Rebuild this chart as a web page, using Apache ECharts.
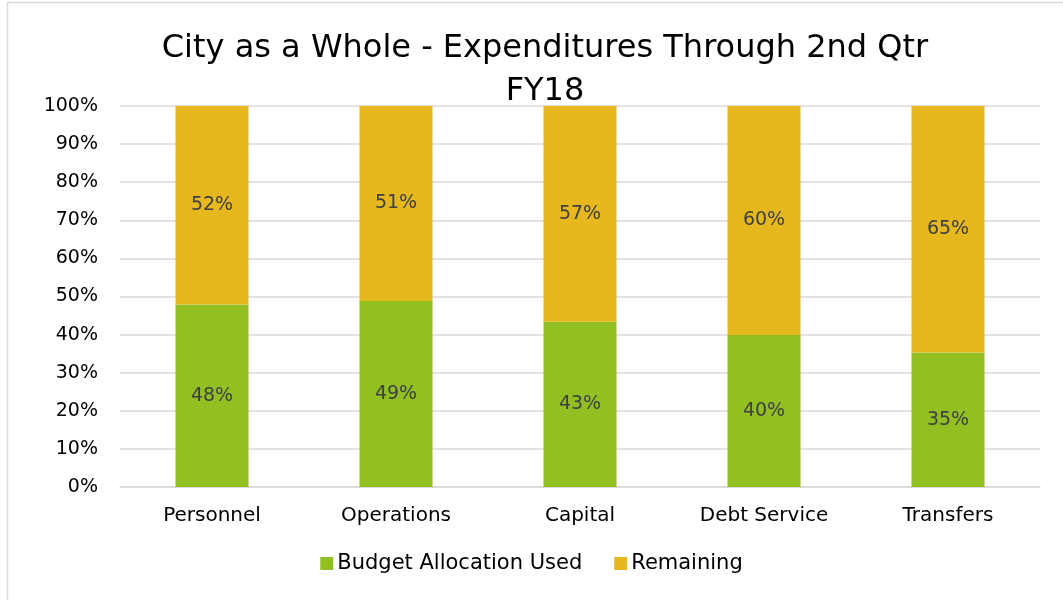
<!DOCTYPE html>
<html><head><meta charset="utf-8">
<script src="https://cdn.jsdelivr.net/npm/echarts@6/dist/echarts.min.js"></script>
<style>html,body{margin:0;padding:0;background:#fff}#c{width:1063px;height:600px}</style>
</head><body><div id="c"></div>
<script>
const categories = ["Personnel", "Operations", "Capital", "Debt Service", "Transfers"];
const usedValues = [47.9, 48.8, 43.4, 39.9, 35.3];
const remainingValues = [52.1, 51.2, 56.6, 60.1, 64.7];
const yTicks = [0,10,20,30,40,50,60,70,80,90,100];
const FONT = "DejaVu Sans";
const chart = echarts.init(document.getElementById('c'));
const lbl = {show:true, position:'inside', color:'#404040', fontSize:19, fontFamily:FONT,
  formatter: p => Math.round(p.value) + '%'};
chart.setOption({
  animation:false,
  graphic:[{type:'rect', shape:{x:7.5,y:2.5,width:1060,height:600}, style:{fill:'none', stroke:'#d9d9d9', lineWidth:1.5}}],
  title:{text:'City as a Whole - Expenditures Through 2nd Qtr\nFY18', left:540, textAlign:'center', top:22,
    textStyle:{fontFamily:FONT, fontSize:32, fontWeight:'normal', color:'#000', lineHeight:43}},
  legend:{bottom:21, left:'center', itemWidth:13, itemHeight:13, itemGap:32, icon:'rect',
    textStyle:{fontFamily:FONT, fontSize:21, color:'#000', padding:[0,0,0,-1]}},
  grid:{left:120, right:23, top:106, bottom:113},
  xAxis:{type:'category', data:categories, axisTick:{show:false},
    axisLine:{lineStyle:{color:'#d9d9d9', width:1.5}},
    axisLabel:{fontFamily:FONT, fontSize:20, color:'#000', margin:19}},
  yAxis:{type:'value', min:0, max:100, interval:10, axisLine:{show:false}, axisTick:{show:false},
    splitLine:{lineStyle:{color:'#d9d9d9', width:1.5}},
    axisLabel:{fontFamily:FONT, fontSize:19, color:'#000', margin:22, formatter: v => yTicks.includes(v) ? v + '%' : ''}},
  series:[
    {name:'Budget Allocation Used', type:'bar', stack:'a', data:usedValues, barWidth:73,
      itemStyle:{color:'#92C023'}, label:lbl},
    {name:'Remaining', type:'bar', stack:'a', data:remainingValues, barWidth:73,
      itemStyle:{color:'#E6B81E'}, label:lbl}
  ]
});
</script></body></html>
